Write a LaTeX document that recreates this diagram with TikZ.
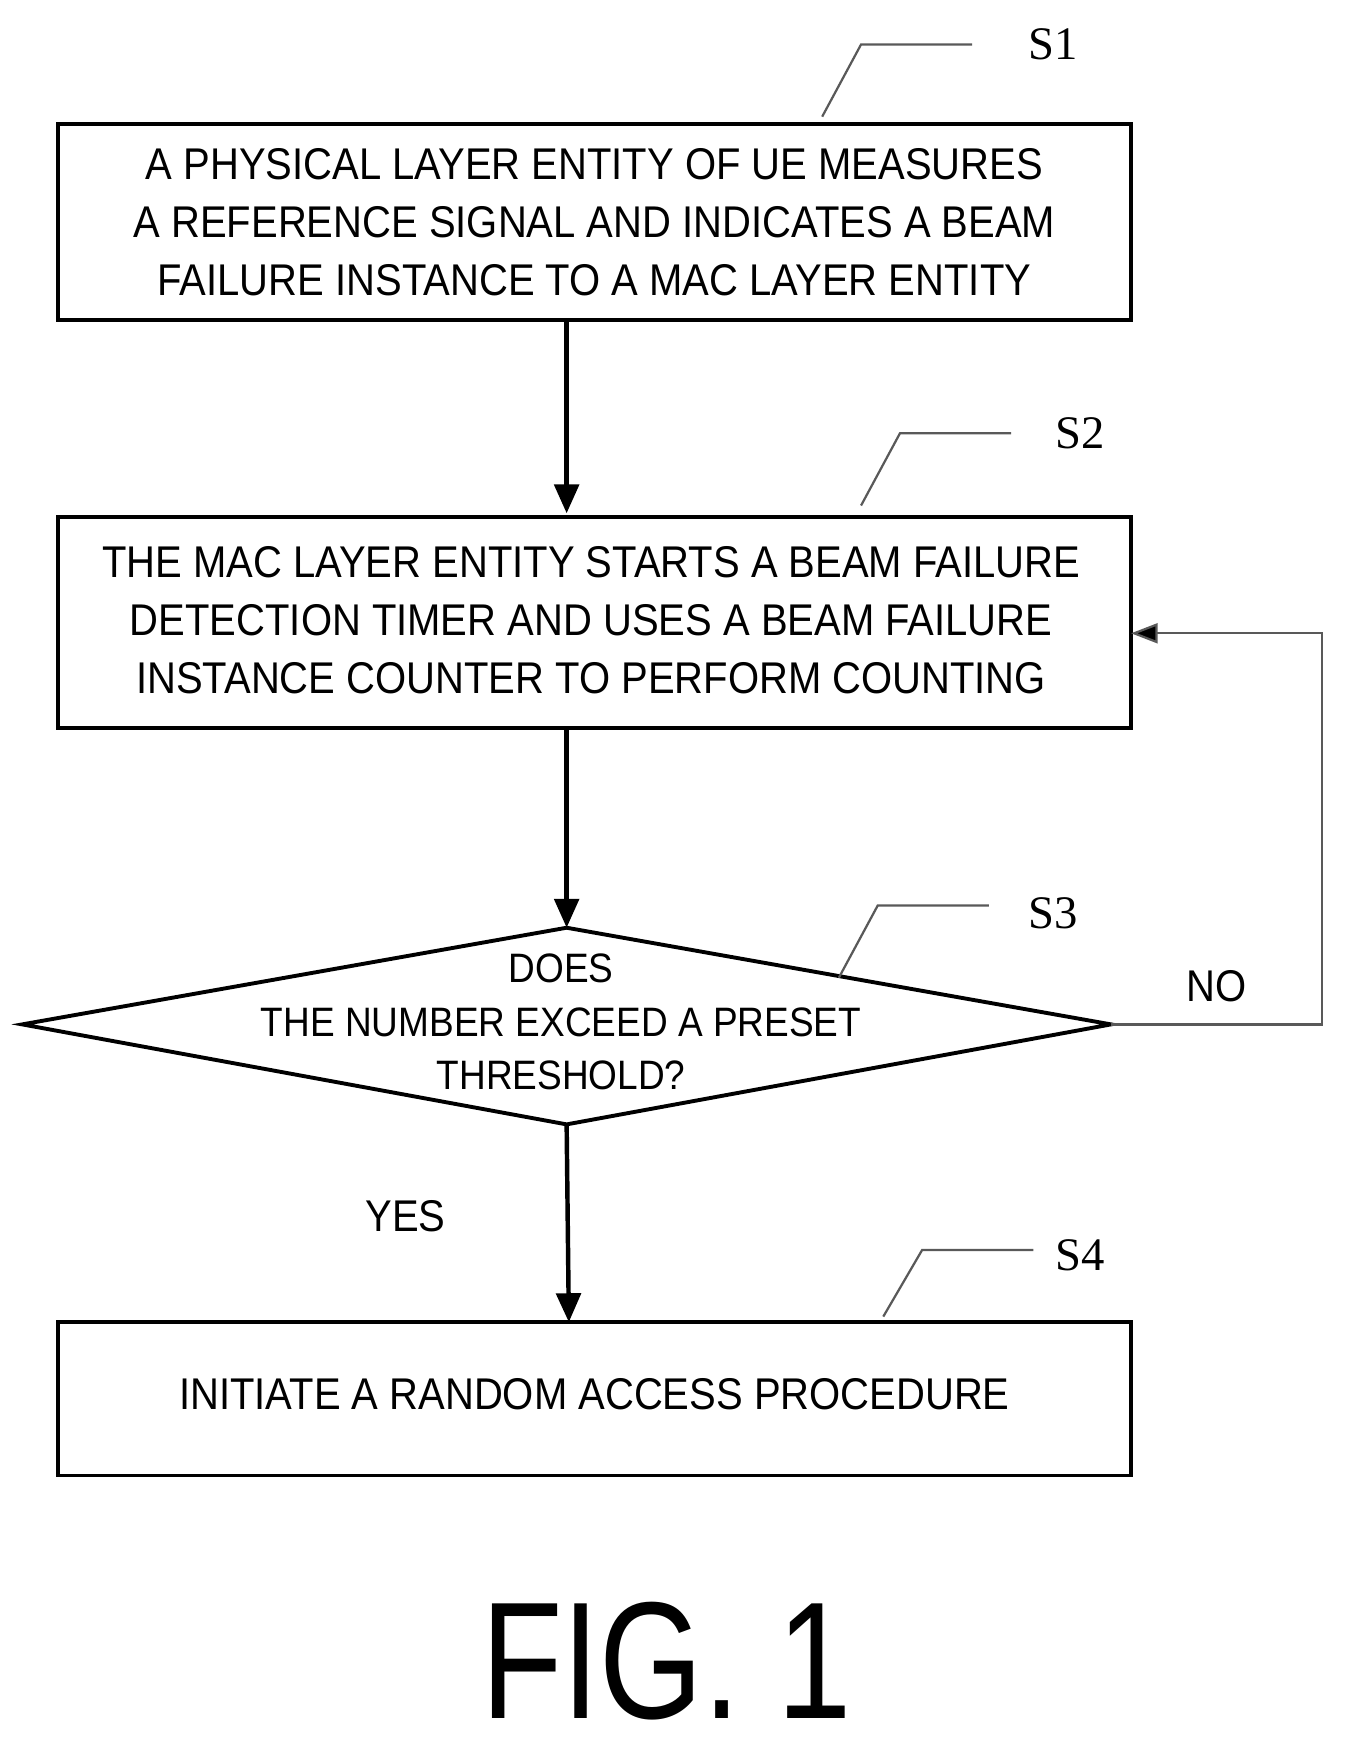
\documentclass[tikz,border=0pt]{standalone}
\usepackage{fontspec}
\setmainfont{Liberation Sans}
\newfontfamily\serifx{Liberation Serif}
\usetikzlibrary{arrows.meta}
\begin{document}
\begin{tikzpicture}[x=1pt,y=-1pt,
  box/.style={draw,line width=3.5pt},
  txt/.style={font=\fontsize{40}{44}\selectfont,align=center,xscale=0.9,inner sep=0},
  dtxt/.style={font=\fontsize{37}{42}\selectfont,align=center,xscale=0.9,inner sep=0},
  lab/.style={font=\serifx\fontsize{42}{42}\selectfont,inner sep=0},
  lead/.style={line width=2pt,gray!70!black},
  arr/.style={line width=4pt,-{Triangle[length=26pt,width=22pt]}},
  thin/.style={line width=2pt,gray!70!black,-{Triangle[length=24pt,width=18pt,fill=black]}}]
\useasboundingbox (0,0) rectangle (1215,1576);
% boxes
\draw[box] (52,112) rectangle (1018,288);
\node[txt] (t1) at (535,200) {A PHYSICAL LAYER ENTITY OF UE MEASURES\\[8pt]A REFERENCE SIGNAL AND INDICATES A BEAM\\[8pt]FAILURE INSTANCE TO A MAC LAYER ENTITY};
\draw[box] (52,465) rectangle (1018,655);
\node[txt] (t2) at (532,558) {THE MAC LAYER ENTITY STARTS A BEAM FAILURE\\[8pt]DETECTION TIMER AND USES A BEAM FAILURE\\[8pt]INSTANCE COUNTER TO PERFORM COUNTING};
\draw[box] (510,835) -- (1000,922) -- (510,1012) -- (20,922) -- cycle;
\node[dtxt] (t3) at (505,920) {DOES\\[6pt]THE NUMBER EXCEED A PRESET\\[6pt]THRESHOLD?};
\draw[box] (52,1190) rectangle (1018,1328);
\node[txt] (t4) at (535,1255) {INITIATE A RANDOM ACCESS PROCEDURE};
% coordinates
\coordinate (a1) at (510,288); \coordinate (a2) at (510,462);
\coordinate (b1) at (510,655); \coordinate (b2) at (510,835);
\coordinate (c1) at (510,1012); \coordinate (c2) at (512,1190);
\coordinate (r) at (1000,922); \coordinate (r2) at (1190,922);
\coordinate (r3) at (1190,570); \coordinate (r4) at (1018,570);
\draw[arr] (a1) -- (a2);
\draw[arr] (b1) -- (b2);
\draw[arr] (c1) -- (c2);
\draw[thin] (r) -- (r2) -- (r3) -- (r4);
\node[txt] (no) at (1095,888) {NO};
\node[txt] (yes) at (365,1095) {YES};
% leaders
\draw[lead] (740,105) -- (775,40) -- (875,40);
\node[lab] (s1) at (948,40) {S1};
\draw[lead] (775,455) -- (810,390) -- (910,390);
\node[lab] (s2) at (972,390) {S2};
\draw[lead] (755,880) -- (790,815) -- (890,815);
\node[lab] (s3) at (948,822) {S3};
\draw[lead] (795,1185) -- (830,1125) -- (930,1125);
\node[lab] (s4) at (972,1130) {S4};
\node[inner sep=0,font=\fontsize{150}{150}\selectfont,xscale=0.8] (fig) at (600,1495) {FIG. 1};
\end{tikzpicture}
\end{document}
